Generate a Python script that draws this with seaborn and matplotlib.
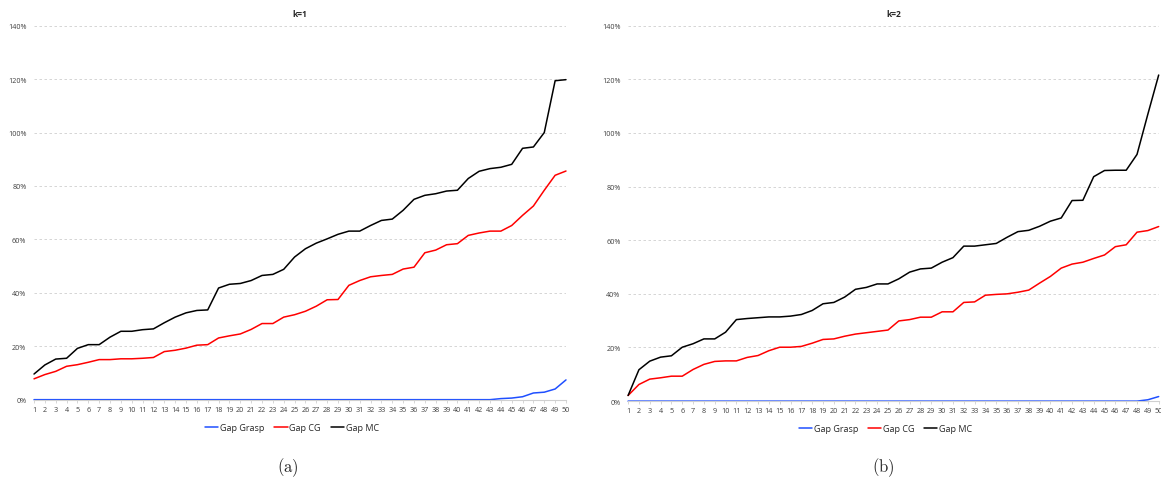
# -*- coding: utf-8 -*-
"""Gap comparison: Grasp / CG / MC over 50 instances, k=1 and k=2"""
import numpy as np
import pandas as pd
import matplotlib
matplotlib.use("Agg")
import matplotlib.pyplot as plt
from matplotlib.ticker import PercentFormatter
import seaborn as sns

INSTANCES = list(range(1, 51))

# k=1 (values in %)
K1_GRASP = [0] * 43 + [0.4, 0.6, 1.1, 2.5, 2.8, 4.0, 7.4]
K1_CG = [7.8, 9.4, 10.6, 12.5, 13.1, 14.0, 15.0, 15.0, 15.3, 15.3,
         15.5, 15.8, 18.0, 18.5, 19.3, 20.4, 20.6, 23.1, 23.9, 24.6,
         26.3, 28.5, 28.5, 30.9, 31.8, 33.1, 35.0, 37.4, 37.5, 42.8,
         44.6, 46.0, 46.5, 46.9, 48.9, 49.6, 55.0, 56.0, 58.0, 58.4,
         61.5, 62.4, 63.1, 63.1, 65.2, 69.0, 72.5, 78.4, 84.0, 85.6]
K1_MC = [9.6, 13.0, 15.2, 15.5, 19.2, 20.6, 20.6, 23.4, 25.6, 25.6,
         26.2, 26.5, 28.8, 30.9, 32.5, 33.4, 33.6, 41.8, 43.2, 43.5,
         44.6, 46.5, 46.9, 48.8, 53.4, 56.5, 58.6, 60.2, 61.9, 63.1,
         63.1, 65.2, 67.1, 67.6, 70.9, 75.0, 76.5, 77.1, 78.1, 78.4,
         82.8, 85.5, 86.5, 87.0, 88.1, 94.1, 94.6, 100.0, 119.4, 119.8]

# k=2 (values in %)
K2_GRASP = [0] * 48 + [0.5, 1.7]
K2_CG = [2.1, 6.2, 8.2, 8.7, 9.3, 9.3, 11.8, 13.7, 14.8, 15.0,
         15.0, 16.3, 17.0, 18.8, 20.1, 20.1, 20.4, 21.6, 23.0, 23.2,
         24.2, 25.0, 25.5, 26.0, 26.5, 29.9, 30.4, 31.3, 31.3, 33.3,
         33.3, 36.8, 37.0, 39.5, 39.8, 40.0, 40.6, 41.4, 44.0, 46.5,
         49.6, 51.1, 51.8, 53.2, 54.5, 57.6, 58.3, 63.0, 63.6, 65.1]
K2_MC = [2.1, 11.7, 14.9, 16.4, 16.9, 20.1, 21.4, 23.2, 23.2, 25.7,
         30.4, 30.8, 31.1, 31.4, 31.4, 31.7, 32.3, 33.8, 36.3, 36.8,
         38.8, 41.7, 42.4, 43.7, 43.7, 45.6, 48.1, 49.3, 49.6, 51.8,
         53.5, 57.8, 57.8, 58.3, 58.8, 61.1, 63.2, 63.7, 65.2, 67.1,
         68.3, 74.8, 74.9, 83.7, 86.0, 86.1, 86.1, 92.0, 107.0, 121.6]

SERIES = ["Gap Grasp", "Gap CG", "Gap MC"]
COLORS = {"Gap Grasp": "#1f4fff", "Gap CG": "#ff0000", "Gap MC": "#000000"}

sns.set_style("white")
plt.rcParams["font.family"] = ["Open Sans", "DejaVu Sans"]
plt.rcParams["mathtext.fontset"] = "cm"


def to_long(grasp, cg, mc):
    parts = []
    for name, vals in zip(SERIES, [grasp, cg, mc]):
        parts.append(pd.DataFrame({"inst": INSTANCES, "gap": vals, "serie": name}))
    return pd.concat(parts, ignore_index=True)


def draw(ax, df, title):
    sns.lineplot(data=df, x="inst", y="gap", hue="serie", hue_order=SERIES,
                 palette=COLORS, linewidth=1.1, ax=ax)
    for ln in ax.get_lines():
        ln.set_clip_on(False)
    ax.set_xlim(1, 50)
    ax.set_ylim(0, 140)
    ax.set_xticks(INSTANCES)
    ax.set_yticks(np.arange(0, 141, 20))
    ax.yaxis.set_major_formatter(PercentFormatter(100, decimals=0))
    ax.yaxis.grid(True, linestyle=(0, (3, 3)), color="#cfcfcf", linewidth=0.6)
    ax.set_axisbelow(True)
    for s in ["top", "right", "left"]:
        ax.spines[s].set_visible(False)
    ax.spines["bottom"].set_color("#d0d0d0")
    ax.spines["bottom"].set_linewidth(0.8)
    ax.tick_params(axis="x", length=2.5, width=0.6, color="#d0d0d0", pad=2,
                   labelsize=5.2, labelcolor="#404040", bottom=True)
    ax.tick_params(axis="y", length=0, pad=5.5, labelsize=5.2, labelcolor="#404040")
    ax.set_xlabel("")
    ax.set_ylabel("")
    ax.set_title(title, fontsize=6, fontweight="bold", pad=7)
    ax.legend(loc="center", bbox_to_anchor=(0.485, -0.074), ncol=3, frameon=False,
              fontsize=6.5, handlelength=1.45, handletextpad=0.2, columnspacing=1.1)


fig = plt.figure(figsize=(11.61, 4.81), dpi=100)
ax1 = fig.add_axes([0.0293, 0.167, 0.4582, 0.7775])
ax2 = fig.add_axes([0.541, 0.164, 0.457, 0.7805])

draw(ax1, to_long(K1_GRASP, K1_CG, K1_MC), "k=1")
draw(ax2, to_long(K2_GRASP, K2_CG, K2_MC), "k=2")

fig.text(0.248, 0.027, r"$\mathrm{(a)}$", ha="center", va="center", fontsize=12)
fig.text(0.761, 0.027, r"$\mathrm{(b)}$", ha="center", va="center", fontsize=12)

fig.savefig("out.png", dpi=100)
plt.close(fig)
